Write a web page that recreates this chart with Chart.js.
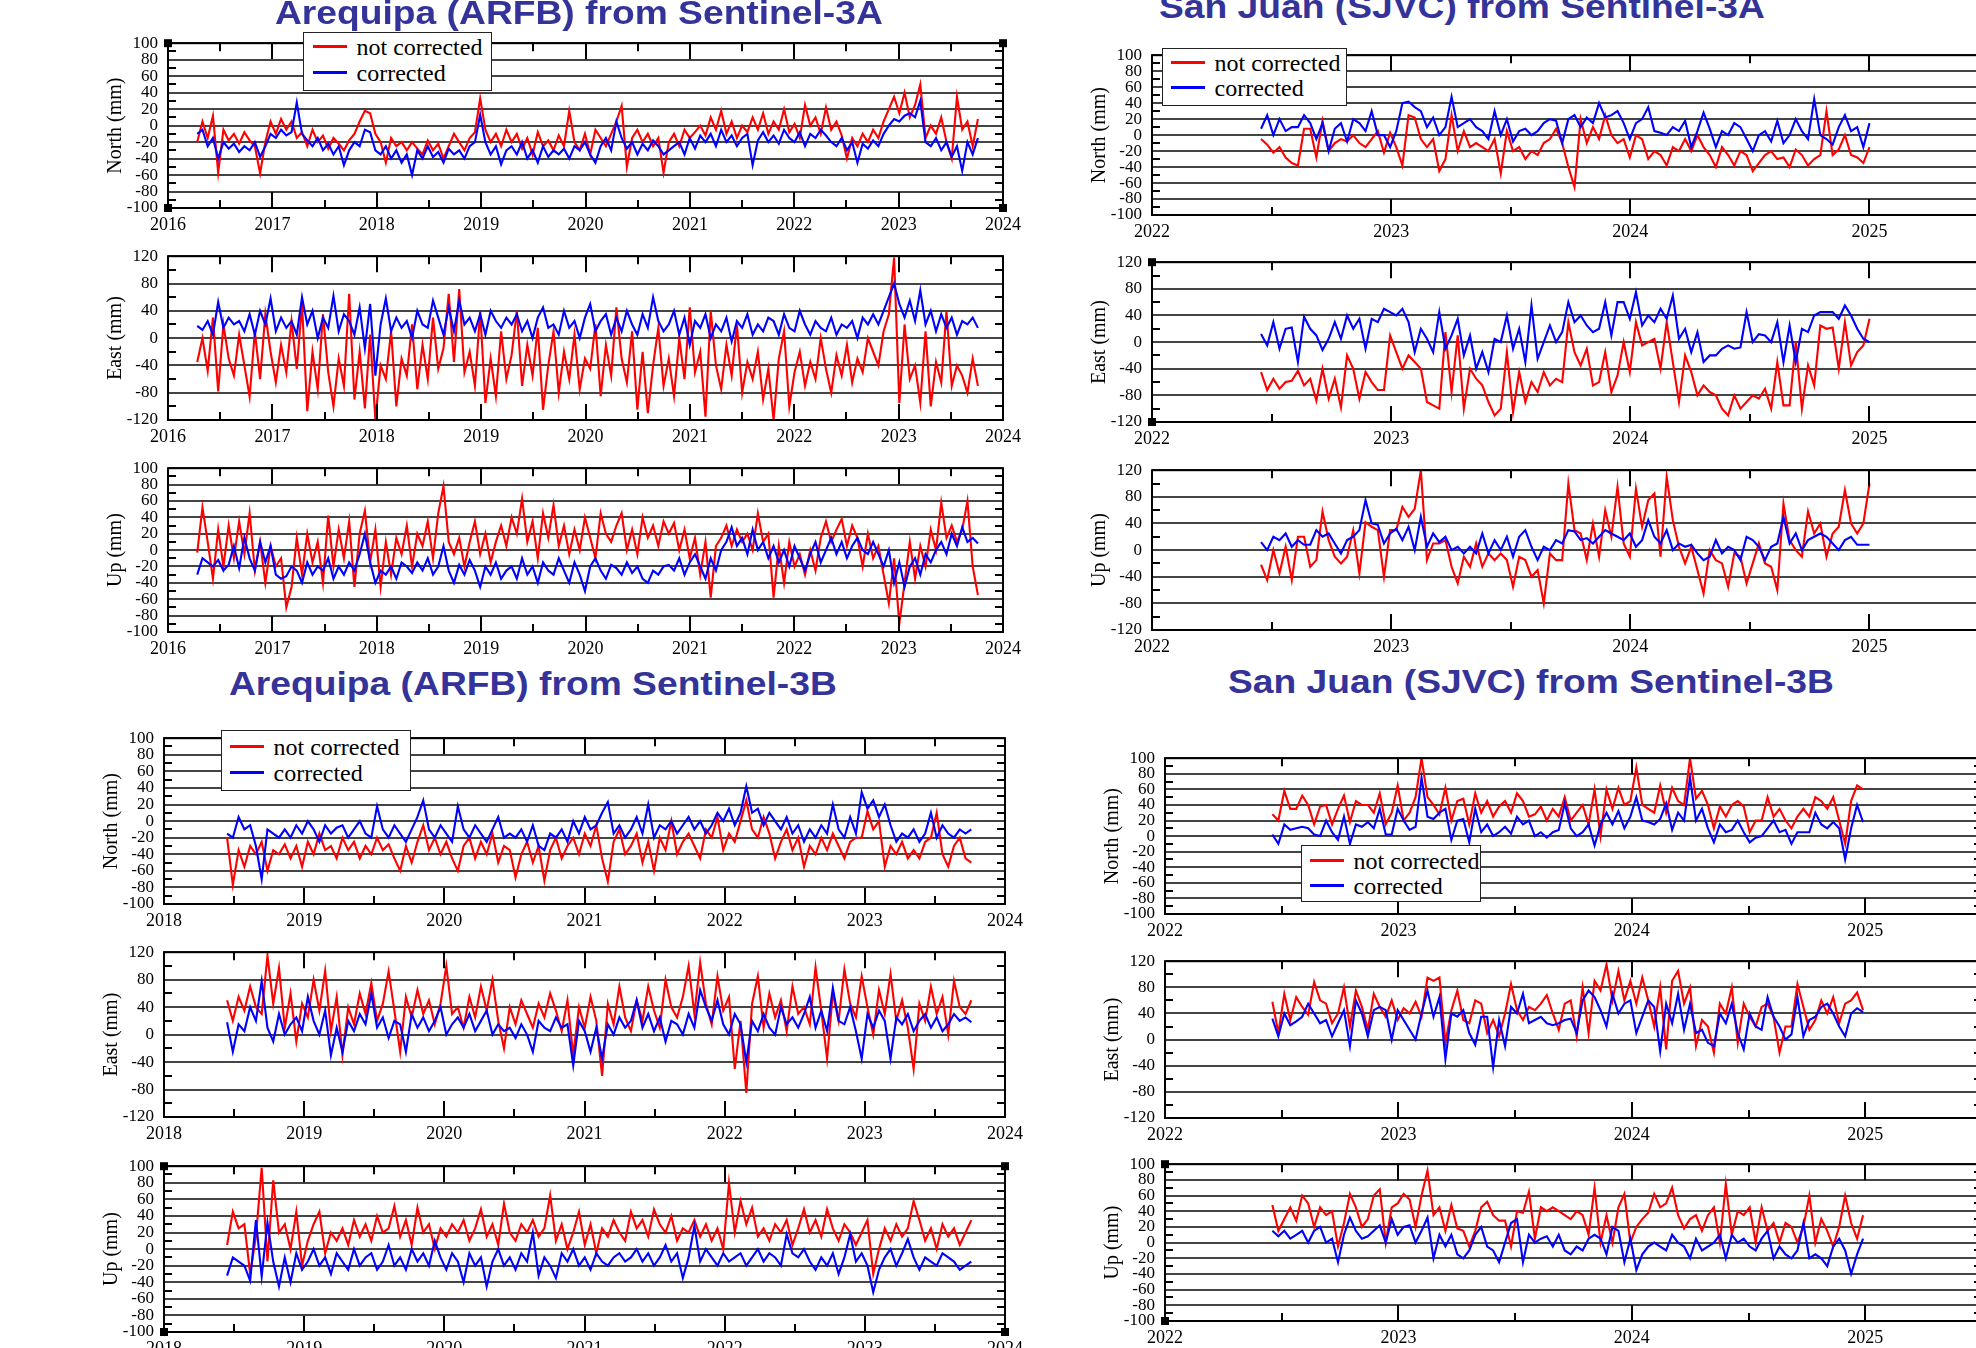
<!DOCTYPE html>
<html>
<head>
<meta charset="utf-8">
<script src="https://cdn.jsdelivr.net/npm/chart.js@4.4.1/dist/chart.umd.min.js"></script>
<style>
html,body{margin:0;padding:0;background:#fff;}
body{width:1976px;height:1348px;overflow:hidden;position:relative;}
canvas{position:absolute;}
.title{position:absolute;font-family:"Liberation Sans",Arial,sans-serif;font-weight:bold;font-size:32.5px;line-height:32.5px;color:#333399;white-space:nowrap;transform:scaleX(1.145);transform-origin:0 0;}
.legend{position:absolute;border:1.5px solid #222;background:#fff;box-sizing:border-box;}
.legend .row{position:absolute;height:24px;display:flex;align-items:center;white-space:nowrap;}
.legend .smp{display:inline-block;width:34px;height:2.5px;margin-right:10px;}
.legend .txt{font-family:"Liberation Serif","Times New Roman",serif;font-size:24px;line-height:24px;color:#000;}
</style>
</head>
<body>
<script>
// ---------------- DATA ----------------
const SERIES_LABELS = ['not corrected', 'corrected'];
const TITLES = ['Arequipa (ARFB) from Sentinel-3A', 'San Juan (SJVC) from Sentinel-3A',
                'Arequipa (ARFB) from Sentinel-3B', 'San Juan (SJVC) from Sentinel-3B'];
const AXIS_TITLES = ['North (mm)', 'East (mm)', 'Up (mm)'];

const AR3A_YEARS = [2016, 2017, 2018, 2019, 2020, 2021, 2022, 2023, 2024];
const AR3B_YEARS = [2018, 2019, 2020, 2021, 2022, 2023, 2024];
const SJ_YEARS = [2022, 2023, 2024, 2025];
const TICKS_100 = [-100, -80, -60, -40, -20, 0, 20, 40, 60, 80, 100];
const TICKS_120 = [-120, -80, -40, 0, 40, 80, 120];

// sample epochs (decimal years): first epoch and spacing of the weekly solutions
const AR3A_T0 = 2016.28, AR3A_DT = 0.0502;
const AR3B_T0 = 2018.45, AR3B_DT = 0.04116;
const SJ3A_T0 = 2022.456, SJ3A_DT = 0.0257;
const SJ3B_T0 = 2022.46, SJ3B_DT = 0.02556;

// Arequipa Sentinel-3A
const AR3A_N_RED = [
-20,5,-15,12,-57,-5,-18,-10,-22,-8,
-18,-25,-58,-20,5,-10,8,-5,5,-15,
-8,-25,-5,-20,-12,-28,-15,-22,-30,-18,
-10,5,18,15,-10,-20,-45,-15,-25,-20,
-30,-20,-28,-35,-18,-30,-22,-40,-25,-10,
-20,-30,-15,-8,33,-5,-20,-10,-25,-5,
-20,-10,-28,-15,-35,-8,-25,-18,-30,-12,
-25,18,-20,-30,-10,-35,-5,-15,-25,-10,
5,24,-50,-15,-5,-20,-10,-25,-15,-57,
-20,-10,-25,-5,-15,-8,0,-12,10,-5,
18,-10,5,-15,0,-8,10,-5,15,-10,
5,-5,20,-8,2,-15,25,0,10,-10,
22,-5,5,-12,-40,-15,-25,-10,-20,-5,
-15,5,20,35,15,40,10,25,50,-15,
0,-10,10,-20,-40,35,-5,5,-25,8];
const AR3A_N_BLUE = [
-10,-5,-25,-15,-40,-20,-28,-22,-32,-25,
-30,-20,-38,-25,-10,-15,-5,-12,-8,28,
-10,-18,-25,-15,-30,-22,-35,-25,-48,-30,
-20,-25,-5,-8,-30,-35,-25,-40,-30,-45,
-35,-60,-30,-40,-25,-38,-32,-45,-28,-35,
-30,-40,-25,-20,13,-20,-35,-25,-47,-30,
-25,-35,-20,-40,-30,-45,-25,-38,-30,-35,
-28,-40,-25,-30,-20,-35,-45,-25,-15,-30,
5,-15,-28,-20,-35,-22,-30,-18,-25,-35,
-30,-25,-20,-35,-15,-28,-12,-20,-10,-25,
-5,-20,-12,-25,-15,-10,-48,-18,-8,-20,
-12,-22,-5,-15,-20,-8,-25,-10,-15,-5,
-12,-20,-25,-15,-30,-20,-45,-22,-28,-18,
-25,-10,0,8,5,12,15,10,30,-20,
-25,-15,-30,-20,-38,-25,-55,-20,-35,-15];
const AR3A_E_RED = [
-35,0,-48,30,-78,20,-30,-55,5,-40,
-86,10,-60,35,-20,-65,-10,-50,25,-45,
50,-107,-20,-75,35,-50,-100,-30,-70,65,
-90,-20,-103,5,-120,-40,-60,10,-100,-30,
-55,20,-75,-10,-60,30,-45,-15,65,-35,
72,-50,-20,-70,40,-95,-30,-85,10,-60,
-25,40,-70,-10,-55,15,-105,-40,10,-80,
-20,-60,5,-75,-30,-45,20,-85,-10,-55,
45,-30,-65,10,-105,-20,-110,-40,15,-70,
-30,-85,0,-60,45,-50,-20,-115,40,-40,
-75,-10,-55,20,-80,-35,-60,-20,-90,-45,
-120,-30,10,-100,-50,-20,-70,-35,-60,0,
-45,-80,-25,-55,-10,-65,-30,-50,0,-20,
-40,10,35,118,-95,20,-60,-40,-95,10,
-100,-35,-65,40,-70,-40,-55,-80,-30,-70];
const AR3A_E_BLUE = [
18,12,25,5,53,15,30,20,25,10,
35,5,40,20,58,10,30,15,25,5,
60,20,40,0,30,15,62,10,35,25,
5,45,-15,50,-55,20,58,10,30,15,
25,0,40,20,15,55,30,5,45,10,
55,20,30,10,35,5,40,25,15,30,
20,35,10,25,0,30,45,15,20,5,
40,15,25,0,30,50,10,25,35,5,
30,10,40,20,5,35,15,60,25,10,
20,40,5,30,-10,25,15,35,0,20,
10,30,-5,25,15,35,5,20,10,30,
25,5,35,15,10,40,20,5,25,15,
10,30,5,20,15,25,0,30,20,35,
20,40,60,80,50,30,55,25,70,20,
40,10,35,15,30,5,25,20,30,15];
const AR3A_U_RED = [
-3,52,10,-35,25,-20,30,-10,35,-5,
45,-25,10,-40,5,-20,-10,-70,-45,15,
-30,20,-15,10,-40,42,-20,25,-10,35,
-45,20,48,-15,25,-45,10,-30,15,-5,
30,-20,20,5,35,-10,45,78,10,-5,
15,-20,10,35,-5,20,-15,10,30,5,
40,20,63,10,35,-10,45,15,55,5,
30,-5,25,0,40,15,-10,45,20,10,
30,45,0,25,-5,40,15,30,5,35,
20,33,0,25,-10,15,-30,10,-58,5,
15,30,5,25,10,20,0,45,10,20,
-58,5,-40,10,-20,-5,-30,0,-25,15,
35,10,25,38,5,30,15,-20,20,-10,
5,-30,-65,-10,-90,-40,10,-35,5,-20,
25,0,58,15,30,10,25,60,-20,-55];
const AR3A_U_BLUE = [
-30,-10,-15,-20,-12,-25,-18,5,-22,15,
-10,-25,10,-15,5,-30,-35,-32,-20,-25,
-40,-15,-30,-20,-25,-10,-35,-20,-30,-15,
-25,-5,20,-15,-40,-25,-30,-20,-35,-15,
-20,-28,-15,-25,-10,-30,-20,5,-25,-40,
-18,-30,-12,-25,-45,-20,-30,-15,-35,-25,
-20,-35,-10,-30,-20,-40,-15,-25,-30,-10,
-25,-40,-15,-30,-50,-20,-10,-25,-35,-18,
-22,-30,-15,-28,-20,-35,-40,-25,-30,-20,
-18,-25,-10,-30,-15,-5,-20,-35,-10,-25,
0,10,28,5,15,-5,25,0,10,-10,
5,-15,0,-20,5,-10,-25,-5,10,-15,
0,15,-5,10,-10,5,15,0,-5,10,
-5,-20,0,-40,-15,-45,-20,-10,-30,-5,
-15,0,10,-5,20,5,28,10,15,8];

// Arequipa Sentinel-3B
const AR3B_N_RED = [
-20,-77,-35,-55,-30,-40,-25,-60,-35,-40,
-28,-45,-30,-55,-25,-40,-15,-35,-30,-45,
-20,-35,-25,-45,-30,-40,-20,-35,-28,-45,
-60,-30,-50,-25,-5,-35,-20,-40,-25,-45,
-60,-30,-20,-45,-25,-40,-15,-50,-30,-35,
-68,-40,-25,-50,-30,-72,-35,-20,-45,-30,
-20,-40,-15,-30,-5,-45,-73,-25,-10,-40,
-30,-15,-50,-25,-60,-20,-35,0,-40,-25,
-15,-30,-45,-10,-20,5,-35,-15,-25,0,
25,-10,-20,5,-15,-45,-25,-10,-35,-20,
-55,-30,-40,-20,-35,-15,-30,-45,-25,-20,
-20,12,-10,0,-55,-30,-40,-25,-45,-35,
-45,-25,-20,10,-40,-55,-30,-20,-45,-50];
const AR3B_N_BLUE = [
-15,-20,5,-10,-5,-30,-70,-10,-15,-20,
-10,-20,-5,-15,0,-10,-25,-5,-15,-8,
-5,-20,-10,0,-15,-20,18,-10,-20,-5,
-15,-25,-10,5,25,-10,-20,-5,-15,-25,
18,-10,-20,-5,-15,-25,-10,5,-20,-15,
-20,-10,-25,-5,-30,-35,-15,-20,-10,-25,
0,-15,5,-10,-5,10,23,-15,-5,-20,
-10,5,-15,20,-20,-5,-10,0,-15,-5,
5,-10,0,-15,-5,10,0,15,-5,10,
42,10,15,-5,10,0,-10,5,-15,-5,
-25,-10,-20,-5,-15,20,-10,-20,5,-15,
35,15,25,5,20,-5,-25,-15,-20,-10,
-25,-15,10,-20,-5,-15,-20,-10,-15,-10];
const AR3B_E_RED = [
50,20,55,35,70,40,30,115,45,97,
10,60,-10,45,25,80,35,93,5,55,
-30,40,15,60,30,75,20,45,92,35,
-25,55,25,65,30,50,15,45,100,30,
40,10,55,25,70,35,80,20,-20,40,
15,50,30,10,45,25,60,35,5,50,
-30,40,10,55,20,-60,45,15,70,25,
5,50,20,70,35,10,80,40,25,55,
100,30,105,45,15,85,35,55,-50,20,
-85,45,85,10,60,25,50,5,70,30,
40,15,98,35,-35,60,20,95,45,25,
85,40,0,65,30,88,20,50,10,-50,
45,20,70,30,55,0,78,40,30,50];
const AR3B_E_BLUE = [
18,-25,15,5,40,20,78,10,-10,30,
0,15,25,5,55,20,0,35,-30,10,
-25,20,5,30,15,60,10,25,-5,20,
15,-25,30,10,25,5,20,40,0,15,
25,10,30,5,20,35,0,15,5,10,
-5,15,0,-25,20,10,5,25,10,15,
-45,20,5,-25,10,-35,15,0,25,10,
20,50,10,30,5,25,-10,20,15,0,
30,10,65,40,20,50,15,0,30,15,
-40,20,5,30,10,0,40,15,25,10,
30,55,10,35,5,68,20,15,40,5,
-35,30,10,35,20,-35,25,15,30,5,
20,30,10,25,5,15,30,20,25,18];
const AR3B_U_RED = [
5,45,25,30,-30,15,98,-15,83,20,
30,0,45,-20,10,30,45,-5,20,10,
25,5,35,15,30,10,40,20,25,52,
15,35,5,50,20,30,0,25,15,30,
20,35,10,25,48,15,30,5,55,20,
10,30,20,35,15,25,65,10,30,0,
20,45,5,30,-5,25,15,35,20,10,
45,25,35,15,48,30,20,40,10,25,
20,35,15,30,10,25,0,80,20,58,
30,50,15,25,10,30,20,35,5,25,
48,20,35,15,48,25,10,30,20,5,
20,35,-30,0,25,10,30,15,25,58,
35,10,25,0,30,15,25,5,20,35];
const AR3B_U_BLUE = [
-32,-10,-15,-20,-38,35,-33,32,-15,-45,
-10,-40,-5,-25,-15,0,-20,-10,-30,-5,
-15,-25,0,-20,-10,-5,-25,-15,5,-20,
-10,-25,0,-15,-5,-20,10,-10,-25,-5,
-15,-40,-5,-20,-10,-45,-15,0,-20,-10,
-25,-5,-15,20,-32,-10,-20,-35,-5,-15,
0,-20,-10,-25,-5,-15,-20,-10,-5,-15,
-10,0,-15,-5,-20,-10,5,-15,-5,-35,
-10,28,-15,0,-10,-20,-5,-15,-10,-5,
-20,-10,0,-15,-5,-10,-20,18,-5,-10,
0,-15,-25,-10,-20,-5,-30,-10,18,-15,
-5,-20,-52,-25,-10,0,-20,-5,12,-10,
-25,-10,-15,-20,-5,-10,-15,-25,-20,-15];

// San Juan Sentinel-3A
const SJ3A_N_RED = [
-5,-12,-22,-15,-28,-35,-38,8,8,-28,
18,-20,-10,-5,-8,0,-10,-15,-5,5,
-22,3,-15,-38,25,22,-5,-15,-5,-45,
-30,25,-20,5,-15,-10,-15,-20,-5,-48,
5,-20,-15,-30,-20,-25,-10,-5,8,-10,
-40,-65,20,-10,10,-5,25,0,-10,-5,
-28,0,-5,-30,-20,-25,-38,-15,-20,-5,
-20,0,-15,-25,-40,-15,-25,-38,-20,-25,
-45,-35,-25,-20,-30,-28,-40,-18,-25,-38,
-30,-25,30,-25,-18,0,-25,-28,-35,-15];
const SJ3A_N_BLUE = [
8,25,0,20,5,10,10,25,15,-5,
15,-20,8,15,-8,20,15,5,30,0,
0,-15,5,40,42,35,30,10,22,0,
10,48,10,15,20,10,5,-5,30,0,
20,-8,5,8,0,5,15,20,18,-10,
20,25,10,22,15,40,22,25,30,15,
-5,15,20,35,5,3,0,10,5,18,
-15,5,28,8,-15,5,0,15,10,-5,
-20,0,5,-8,18,-10,0,20,5,-5,
45,0,-5,-12,10,25,5,10,-15,15];
const SJ3A_E_RED = [
-45,-72,-55,-70,-60,-58,-43,-65,-55,-88,
-40,-85,-55,-98,-20,-40,-85,-45,-60,-72,
-72,10,-15,-40,-20,-30,-40,-90,-95,-100,
15,-75,10,-100,-40,-55,-65,-90,-110,-100,
-15,-105,-45,-90,-60,-75,-45,-65,-55,-60,
30,-15,-35,-10,-65,-60,-15,-75,-50,0,
-45,30,-5,0,5,-40,30,-30,-90,-20,
-45,-80,-65,-75,-80,-100,-110,-80,-100,-90,
-80,-85,-70,-100,-30,-95,-95,0,-100,-35,
-65,25,20,22,-40,30,-35,-15,-5,35];
const SJ3A_E_BLUE = [
12,-5,30,-10,20,22,-30,38,20,10,
-12,5,30,5,40,20,35,-10,35,30,
50,45,40,50,30,-15,20,5,-15,45,
-10,10,35,-20,10,-40,-15,-45,5,0,
40,-10,20,-30,55,-25,0,25,0,15,
60,30,40,25,15,20,60,10,60,60,
35,75,25,40,30,50,35,70,5,20,
-15,15,-30,-20,-20,-10,-5,-10,-8,45,
0,12,10,0,30,-30,25,-30,20,15,
40,45,45,45,35,55,40,20,5,0];
const SJ3A_U_RED = [
-22,-45,0,-35,5,-45,20,20,-25,-15,
58,15,-10,-20,-10,30,-35,42,35,30,
-40,30,30,65,50,62,120,-15,10,10,
15,-25,-50,-10,-25,10,-25,-5,-15,-5,
-15,-55,-10,-15,-40,-30,-80,-5,-15,-15,
100,30,25,-15,40,-10,60,20,95,10,
-10,92,35,75,85,-10,110,45,5,-20,
5,-30,-65,0,-15,-20,-55,-5,-10,-50,
-20,10,-20,-25,-60,70,15,0,-10,58,
25,40,-10,25,35,90,40,25,40,100];
const SJ3A_U_BLUE = [
12,0,20,15,25,5,15,8,8,30,
20,25,10,-5,15,20,30,75,40,38,
10,25,32,15,35,0,50,5,25,12,
20,0,5,-5,5,-5,25,-5,15,0,
20,-10,20,30,5,-15,5,0,15,10,
30,28,15,18,10,20,30,25,20,15,
25,5,15,45,20,10,30,0,10,5,
8,-5,-15,-10,15,-5,5,0,-15,20,
15,5,-15,5,10,50,10,25,0,15,
20,25,20,10,0,15,20,8,8,8];

// San Juan Sentinel-3B
const SJ3B_N_RED = [
28,20,58,35,35,52,40,15,38,40,
15,35,52,18,45,40,40,30,55,15,
30,65,20,30,50,100,50,40,28,62,
20,45,48,15,55,30,45,25,38,45,
30,55,45,25,28,38,20,35,25,50,
20,30,40,15,60,0,60,35,62,40,
45,88,40,35,30,65,30,62,45,40,
100,48,58,40,10,38,25,40,45,38,
5,20,20,50,25,35,20,10,25,35,
25,50,45,35,50,20,-10,45,65,60];
const SJ3B_N_BLUE = [
2,-10,15,8,10,12,10,2,0,20,
5,-5,25,-10,15,12,18,10,35,2,
2,35,20,8,12,75,25,22,30,35,
-5,20,22,-8,35,5,15,0,5,12,
3,25,15,20,0,5,-2,5,8,42,
10,0,5,15,-12,15,30,15,32,10,
25,50,20,18,15,22,42,8,30,20,
75,20,35,10,-8,15,5,8,20,5,
-8,-2,0,10,20,5,8,-10,5,5,
5,30,15,10,18,10,-30,10,40,18];
const SJ3B_E_RED = [
58,10,70,30,65,50,38,88,60,55,
25,40,80,20,75,50,15,70,50,35,
60,30,48,40,58,35,95,90,95,-5,
45,75,30,25,60,55,10,30,5,40,
85,45,30,50,45,55,68,40,15,55,
60,5,80,10,90,75,115,60,105,60,
90,55,95,60,20,80,-15,90,105,55,
80,-10,30,20,-20,55,40,80,-5,55,
35,20,50,55,35,-20,20,20,85,50,
15,30,60,40,65,25,55,60,72,45];
const SJ3B_E_BLUE = [
32,5,40,22,28,35,55,40,25,30,
5,25,45,-10,60,40,5,45,50,45,
0,45,30,15,0,40,75,35,65,-30,
40,35,45,10,-8,35,35,-42,30,-10,
50,40,70,25,30,35,25,22,25,30,
32,10,60,75,65,45,20,70,40,55,
60,10,35,60,50,-18,55,25,70,15,
55,10,15,-5,-10,40,25,55,10,-15,
40,20,15,65,35,20,0,8,65,5,
30,35,50,55,40,20,5,40,48,42];
const SJ3B_U_RED = [
48,15,30,45,28,60,50,20,45,35,
40,-5,25,62,45,20,30,60,68,0,
45,50,62,55,20,60,92,35,45,15,
48,18,15,-5,15,45,52,35,28,28,
-5,40,38,65,5,45,40,45,40,35,
30,40,35,10,70,0,35,0,45,62,
0,20,30,38,62,45,50,70,35,18,
30,35,15,35,45,0,75,10,40,35,
45,0,45,15,25,0,25,20,0,20,
60,0,30,15,-5,20,60,25,5,35];
const SJ3B_U_BLUE = [
15,8,15,5,10,15,0,15,20,0,
5,-25,10,32,15,5,8,15,22,0,
30,10,20,22,0,15,32,-20,10,-5,
10,-15,-20,-10,10,20,-5,-10,-25,0,
25,30,-25,10,0,5,8,-5,10,-10,
-15,-5,-10,5,10,5,-15,20,15,-25,
5,-35,-15,-5,0,-5,-10,10,0,-5,
-20,5,-10,-5,0,10,-20,10,0,5,
-5,-10,5,15,-20,-5,-15,-20,-10,25,
-20,-15,-20,-30,-5,5,-10,-40,-15,5];

// ---------------- RENDERING ----------------
const YW = 70, PT = 8, PR = 8, XH = 34;

const framePlugin = {
  id: 'frame',
  afterDraw(chart, args, opts) {
    const ctx = chart.ctx;
    const {left, top, right, bottom} = chart.chartArea;
    const xs = chart.scales.x, ys = chart.scales.y;
    ctx.save();
    ctx.strokeStyle = '#000';
    ctx.lineWidth = 2;
    ctx.beginPath();
    const yrs = opts.years;
    const xMarks = [];
    yrs.forEach(v => xMarks.push([v, 16]));
    for (let i = 0; i < yrs.length; i++) {
      const mid = yrs[i] + 0.5;
      if (mid <= xs.max + 1e-9) xMarks.push([mid, 8]);
    }
    xMarks.forEach(([v, len]) => {
      const px = Math.round(xs.getPixelForValue(v));
      ctx.moveTo(px, top); ctx.lineTo(px, top + len);
      ctx.moveTo(px, bottom); ctx.lineTo(px, bottom - len);
    });
    const yt = opts.yticks;
    for (let i = 0; i < yt.length - 1; i++) {
      const py = Math.round(ys.getPixelForValue((yt[i] + yt[i + 1]) / 2));
      ctx.moveTo(left, py); ctx.lineTo(left + 8, py);
      ctx.moveTo(right, py); ctx.lineTo(right - 8, py);
    }
    ctx.stroke();
    ctx.strokeRect(left, top, right - left, bottom - top);
    ctx.fillStyle = '#000';
    (opts.corners || []).forEach(c => {
      const cx = c.includes('l') ? left : right;
      const cy = c.includes('t') ? top : bottom;
      ctx.fillRect(cx - 4, cy - 4, 8, 8);
    });
    ctx.restore();
  }
};

function toXY(t0, dt, arr) {
  return arr.map((v, i) => ({x: t0 + i * dt, y: v}));
}

function makePlot(p) {
  const w = (p.R - p.L) + YW + PR, h = (p.B - p.T) + PT + XH;
  const c = document.createElement('canvas');
  c.width = Math.round(w); c.height = Math.round(h);
  c.style.left = Math.round(p.L - YW) + 'px';
  c.style.top = Math.round(p.T - PT) + 'px';
  c.style.width = Math.round(w) + 'px';
  c.style.height = Math.round(h) + 'px';
  document.body.appendChild(c);
  new Chart(c, {
    type: 'line',
    data: {
      datasets: [
        {label: SERIES_LABELS[0], data: toXY(p.t0, p.dt, p.red), borderColor: '#ff0000', borderWidth: 2.1,
         pointRadius: 0, tension: 0, fill: false, order: 1},
        {label: SERIES_LABELS[1], data: toXY(p.t0, p.dt, p.blue), borderColor: '#0000ff', borderWidth: 2.1,
         pointRadius: 0, tension: 0, fill: false, order: 0}
      ]
    },
    options: {
      responsive: false,
      animation: false,
      events: [],
      devicePixelRatio: 1,
      layout: {padding: {left: 0, top: PT, right: PR, bottom: 0}, autoPadding: false},
      plugins: {
        legend: {display: false},
        tooltip: {enabled: false},
        frame: {years: p.years, yticks: p.yticks, corners: p.corners}
      },
      scales: {
        x: {
          type: 'linear', min: p.xmin, max: p.xmax,
          afterBuildTicks: s => { s.ticks = p.years.map(v => ({value: v})); },
          afterFit: s => { s.height = XH; },
          grid: {display: false, drawTicks: false},
          border: {display: false},
          ticks: {font: {family: 'Liberation Serif', size: 18}, color: '#000', padding: 6,
                  maxRotation: 0, autoSkip: false, callback: v => String(v)}
        },
        y: {
          type: 'linear', min: p.yticks[0], max: p.yticks[p.yticks.length - 1],
          afterBuildTicks: s => { s.ticks = p.yticks.map(v => ({value: v})); },
          afterFit: s => { s.width = YW; },
          grid: {color: '#444', lineWidth: 2, drawTicks: false},
          border: {display: false},
          ticks: {font: {family: 'Liberation Serif', size: 17}, color: '#000', padding: 10,
                  autoSkip: false, callback: v => String(v)},
          title: {display: true, text: p.ytitle, color: '#000',
                  font: {family: 'Liberation Serif', size: 20}, padding: {top: 6, bottom: 0}}
        }
      }
    },
    plugins: [framePlugin]
  });
}

function addTitle(text, left, baseline) {
  const d = document.createElement('div');
  d.className = 'title';
  d.textContent = text;
  d.style.left = left + 'px';
  d.style.top = (baseline - 27.5) + 'px';
  document.body.appendChild(d);
}

function addLegend(box, rows, smpLeft) {
  const d = document.createElement('div');
  d.className = 'legend';
  d.style.left = box[0] + 'px'; d.style.top = box[1] + 'px';
  d.style.width = box[2] + 'px'; d.style.height = box[3] + 'px';
  const colors = ['#ff0000', '#0000ff'];
  rows.forEach((ry, i) => {
    const r = document.createElement('div');
    r.className = 'row';
    r.style.left = (smpLeft - box[0] - 1.5) + 'px';
    r.style.top = (ry - box[1] - 12 - 1.5) + 'px';
    const s = document.createElement('span'); s.className = 'smp'; s.style.background = colors[i];
    const t = document.createElement('span'); t.className = 'txt'; t.textContent = SERIES_LABELS[i];
    r.appendChild(s); r.appendChild(t);
    d.appendChild(r);
  });
  document.body.appendChild(d);
}

// Arequipa 3A (top-left)
const A3 = {L: 168, R: 1019, xmin: 2016, xmax: 2024, years: AR3A_YEARS, t0: AR3A_T0, dt: AR3A_DT};
makePlot({...A3, T: 31, B: 208, yticks: TICKS_100, ytitle: AXIS_TITLES[0], red: AR3A_N_RED, blue: AR3A_N_BLUE, corners: ['tl','tr','bl','br']});
makePlot({...A3, T: 244, B: 420, yticks: TICKS_120, ytitle: AXIS_TITLES[1], red: AR3A_E_RED, blue: AR3A_E_BLUE});
makePlot({...A3, T: 456, B: 632, yticks: TICKS_100, ytitle: AXIS_TITLES[2], red: AR3A_U_RED, blue: AR3A_U_BLUE});

// San Juan 3A (top-right)
const S3 = {L: 1152, R: 1988.5, xmin: 2022, xmax: 2025.5, years: SJ_YEARS, t0: SJ3A_T0, dt: SJ3A_DT};
makePlot({...S3, T: 43, B: 215, yticks: TICKS_100, ytitle: AXIS_TITLES[0], red: SJ3A_N_RED, blue: SJ3A_N_BLUE});
makePlot({...S3, T: 250, B: 422, yticks: TICKS_120, ytitle: AXIS_TITLES[1], red: SJ3A_E_RED, blue: SJ3A_E_BLUE, corners: ['tl','bl']});
makePlot({...S3, T: 458, B: 630, yticks: TICKS_120, ytitle: AXIS_TITLES[2], red: SJ3A_U_RED, blue: SJ3A_U_BLUE});

// Arequipa 3B (bottom-left)
const A3B = {L: 164, R: 1021, xmin: 2018, xmax: 2024, years: AR3B_YEARS, t0: AR3B_T0, dt: AR3B_DT};
makePlot({...A3B, T: 726, B: 904, yticks: TICKS_100, ytitle: AXIS_TITLES[0], red: AR3B_N_RED, blue: AR3B_N_BLUE});
makePlot({...A3B, T: 940, B: 1117, yticks: TICKS_120, ytitle: AXIS_TITLES[1], red: AR3B_E_RED, blue: AR3B_E_BLUE});
makePlot({...A3B, T: 1154, B: 1332, yticks: TICKS_100, ytitle: AXIS_TITLES[2], red: AR3B_U_RED, blue: AR3B_U_BLUE, corners: ['tl','tr','bl','br']});

// San Juan 3B (bottom-right)
const S3B = {L: 1165, R: 1982, xmin: 2022, xmax: 2025.5, years: SJ_YEARS, t0: SJ3B_T0, dt: SJ3B_DT};
makePlot({...S3B, T: 746, B: 914, yticks: TICKS_100, ytitle: AXIS_TITLES[0], red: SJ3B_N_RED, blue: SJ3B_N_BLUE});
makePlot({...S3B, T: 949, B: 1118, yticks: TICKS_120, ytitle: AXIS_TITLES[1], red: SJ3B_E_RED, blue: SJ3B_E_BLUE});
makePlot({...S3B, T: 1152, B: 1321, yticks: TICKS_100, ytitle: AXIS_TITLES[2], red: SJ3B_U_RED, blue: SJ3B_U_BLUE, corners: ['tl','bl']});

// titles
addTitle(TITLES[0], 275, 24);
addTitle(TITLES[1], 1159, 18);
addTitle(TITLES[2], 229, 695);
addTitle(TITLES[3], 1228, 693);

// legends: [left, top, width, height], row centre y values, sample left x
addLegend([303, 32, 189, 59], [47, 73], 313);
addLegend([1162, 48, 185, 58], [63, 88], 1171);
addLegend([221, 730, 190, 61], [747, 773], 230);
addLegend([1301, 845, 180, 57], [861, 886], 1310);
</script>
</body>
</html>
